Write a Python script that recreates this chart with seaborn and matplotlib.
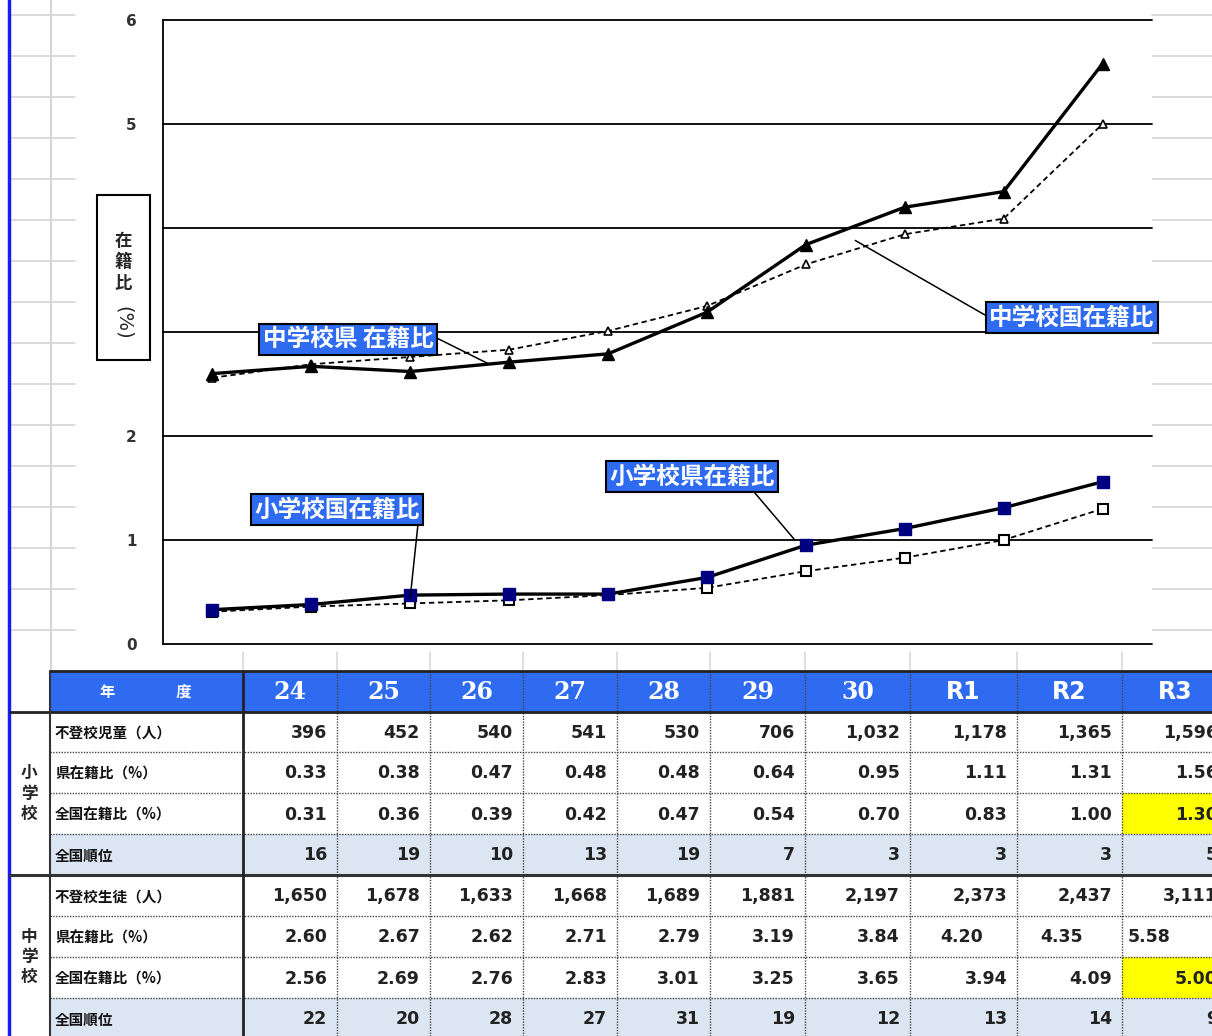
import numpy as np
import pandas as pd
import seaborn as sns
import matplotlib.pyplot as plt
from matplotlib.patches import Rectangle

years = ["24", "25", "26", "27", "28", "29", "30", "R1", "R2", "R3"]

elem_count = [396, 452, 540, 541, 530, 706, 1032, 1178, 1365, 1596]
elem_pref = [0.33, 0.38, 0.47, 0.48, 0.48, 0.64, 0.95, 1.11, 1.31, 1.56]
elem_nat = [0.31, 0.36, 0.39, 0.42, 0.47, 0.54, 0.70, 0.83, 1.00, 1.30]
elem_rank = [16, 19, 10, 13, 19, 7, 3, 3, 3, 5]

mid_count = [1650, 1678, 1633, 1668, 1689, 1881, 2197, 2373, 2437, 3111]
mid_pref = [2.60, 2.67, 2.62, 2.71, 2.79, 3.19, 3.84, 4.20, 4.35, 5.58]
mid_nat = [2.56, 2.69, 2.76, 2.83, 3.01, 3.25, 3.65, 3.94, 4.09, 5.00]
mid_rank = [22, 20, 28, 27, 31, 19, 12, 13, 14, 9]

group_labels = ["小\n学\n校", "中\n学\n校"]
elem_row_labels = ["不登校児童（人）", "県在籍比（%）", "全国在籍比（%）", "全国順位"]
mid_row_labels = ["不登校生徒（人）", "県在籍比（%）", "全国在籍比（%）", "全国順位"]
# y tick labels; 3 and 4 sit behind the axis-title box in the original
ytick_labels = ["0", "1", "2", "", "", "5", "6"]

sns.set_theme(style="white")
plt.rcParams["font.family"] = ["DejaVu Sans", "Noto Sans CJK JP"]
JP = ["Noto Sans CJK JP", "DejaVu Sans"]

W, H = 1212, 1036
fig = plt.figure(figsize=(W / 100, H / 100), dpi=100)
fig.patch.set_facecolor("white")

# background "spreadsheet" layer in pixel coordinates
bg = fig.add_axes([0, 0, 1, 1])
bg.set_xlim(0, W)
bg.set_ylim(H, 0)
bg.axis("off")

for y in np.arange(630, 0, -41):
    bg.plot([12, 75], [y, y], color="#d6d6d6", lw=1.2)
    bg.plot([1152, W], [y, y], color="#d6d6d6", lw=1.2)
bg.plot([51, 51], [0, 671], color="#d6d6d6", lw=1.5)
bg.plot([9, 9], [0, H], color="#1c1cf0", lw=2.5)

# ---- table ----
col_edges = [243, 337, 430, 523, 617, 710, 805, 910, 1017, 1122, 1228]
row_edges = [671, 712, 752, 793, 834, 875, 916, 957, 998, 1039]
for x in col_edges:
    bg.plot([x, x], [652, 671], color="#d9d9d9", lw=1.2)

# header
bg.add_patch(Rectangle((50, 671), W - 50, 41, fc="#2f6bf0", ec="none"))
bg.text(146, 692, "年　　　　度", color="white", fontsize=11, fontweight="bold",
        family=JP, ha="center", va="center")
for i, yr in enumerate(years):
    cx = (col_edges[i] + col_edges[i + 1]) / 2
    fam = ["DejaVu Serif"] if yr.isdigit() else ["DejaVu Sans"]
    bg.text(cx, 692, yr, color="white", fontsize=17, fontweight="bold",
            family=fam, ha="center", va="center")

rows = [
    (elem_row_labels[0], [f"{v:,}" for v in elem_count]),
    (elem_row_labels[1], [f"{v:.2f}" for v in elem_pref]),
    (elem_row_labels[2], [f"{v:.2f}" for v in elem_nat]),
    (elem_row_labels[3], [str(v) for v in elem_rank]),
    (mid_row_labels[0], [f"{v:,}" for v in mid_count]),
    (mid_row_labels[1], [f"{v:.2f}" for v in mid_pref]),
    (mid_row_labels[2], [f"{v:.2f}" for v in mid_nat]),
    (mid_row_labels[3], [str(v) for v in mid_rank]),
]
shaded_rows = [3, 7]
yellow_cells = [(2, 9), (6, 9)]
left_cells = {(5, 7): 30, (5, 8): 23, (5, 9): 6}

for r, (lab, vals) in enumerate(rows):
    top, bot = row_edges[r + 1], row_edges[r + 2]
    cy = (top + bot) / 2 + 1
    if r in shaded_rows:
        bg.add_patch(Rectangle((50, top), W - 50, bot - top, fc="#dce6f2", ec="none"))
    bg.text(55, cy, lab, fontsize=10.5, fontweight="bold", family=JP,
            ha="left", va="center", color="#111")
    for c, v in enumerate(vals):
        x0, x1 = col_edges[c], col_edges[c + 1]
        if (r, c) in yellow_cells:
            bg.add_patch(Rectangle((x0, top), x1 - x0, bot - top, fc="#ffff00", ec="none"))
        if (r, c) in left_cells:
            bg.text(x0 + left_cells[(r, c)], cy, v, fontsize=12.5, fontweight="bold",
                    ha="left", va="center", color="#222")
        else:
            bg.text(x1 - 10, cy, v, fontsize=12.5, fontweight="bold",
                    ha="right", va="center", color="#222")

for g, lab in enumerate(group_labels):
    cy = (row_edges[1 + 4 * g] + row_edges[5 + 4 * g]) / 2
    bg.text(29, cy, lab, fontsize=12, fontweight="bold", family=JP,
            ha="center", va="center", linespacing=1.15)

# table lines
dot = (0, (1, 1))
for k in [2, 3, 4, 6, 7, 8]:
    bg.plot([50, W], [row_edges[k]] * 2, color="#444", lw=1, ls=dot)
for x in col_edges[1:-1]:
    bg.plot([x, x], [671, H], color="#444", lw=1, ls=dot)
bg.plot([50, W], [671, 671], color="#222", lw=2)
bg.plot([10, W], [712, 712], color="#222", lw=2)
bg.plot([10, W], [875, 875], color="#333", lw=2.2)
bg.plot([243, 243], [671, H], color="#222", lw=2)
bg.plot([50, 50], [671, H], color="#333", lw=1.5)

# ---- line chart ----
ax = fig.add_axes([163 / W, 1 - 644 / H, (1152 - 163) / W, (644 - 20) / H])
ax.set_facecolor("white")
idx = np.arange(len(years))

sns.lineplot(x=idx, y=mid_nat, ax=ax, color="black", lw=1.3, linestyle=(0, (3, 2)),
             marker="^", ms=6, mfc="white", mec="black", mew=1.2, zorder=3)
sns.lineplot(x=idx, y=mid_pref, ax=ax, color="black", lw=2.4,
             marker="^", ms=9, mfc="black", mec="black", mew=1, zorder=4)
sns.lineplot(x=idx, y=elem_nat, ax=ax, color="black", lw=1.3, linestyle=(0, (3, 2)),
             marker="s", ms=6.5, mfc="white", mec="black", mew=1.5, zorder=3)
sns.lineplot(x=idx, y=elem_pref, ax=ax, color="black", lw=2.4,
             marker="s", ms=8, mfc="#000080", mec="#000080", mew=1, zorder=4)

ax.set_xlim(-0.5, len(years) - 0.5)
ax.set_ylim(0, 6)
ax.set_yticks(range(len(ytick_labels)))
ax.set_yticklabels(ytick_labels)
ax.set_xticks([])
ax.set_xlabel("")
ax.set_ylabel("")
ax.yaxis.grid(True, color="black", lw=1.3)
for gl in ax.get_ygridlines():
    gl.set_clip_on(False)
ax.set_axisbelow(True)
for s in ["top", "right", "bottom"]:
    ax.spines[s].set_visible(False)
ax.spines["left"].set_color("black")
ax.spines["left"].set_linewidth(1.3)
ax.tick_params(axis="y", length=0, pad=19, labelsize=11, labelcolor="#333")
for t in ax.get_yticklabels():
    t.set_fontweight("bold")

box = dict(boxstyle="square,pad=0.15", fc="#2f6bf0", ec="black", lw=1.5)
callouts = [
    ("中学校県 在籍比", (2.80, 2.69), (1.37, 2.93), (0.95, 0.8)),
    ("中学校国在籍比", (6.50, 3.88), (8.69, 3.14), (0.0, 0.5)),
    ("小学校県在籍比", (5.88, 1.01), (4.85, 1.61), (0.82, 0.3)),
    ("小学校国在籍比", (2.00, 0.45), (1.26, 1.29), (1.0, 0.6)),
]
for text, xy, xyt, rp in callouts:
    ax.annotate(text, xy=xy, xytext=xyt, fontsize=17, fontweight="bold", color="white",
                family=JP, ha="center", va="center", bbox=box, annotation_clip=False,
                zorder=6,
                arrowprops=dict(arrowstyle="-", color="black", lw=1.1, relpos=rp,
                                shrinkA=0, shrinkB=0))

# y-axis title box
fig.add_artist(Rectangle((97 / W, 1 - 360 / H), 53 / W, 165 / H, transform=fig.transFigure,
                         fc="white", ec="black", lw=1.5, zorder=5))
fig.text(123.5 / W, 1 - 262 / H, "在\n籍\n比", fontsize=12.5, fontweight="bold", family=JP,
         ha="center", va="center", linespacing=1.25, zorder=6)
fig.text(123.5 / W, 1 - 323 / H, "(%)", fontsize=14, rotation=-90, family=["DejaVu Sans"],
         ha="center", va="center", zorder=6)

fig.savefig("out.png", dpi=100)
